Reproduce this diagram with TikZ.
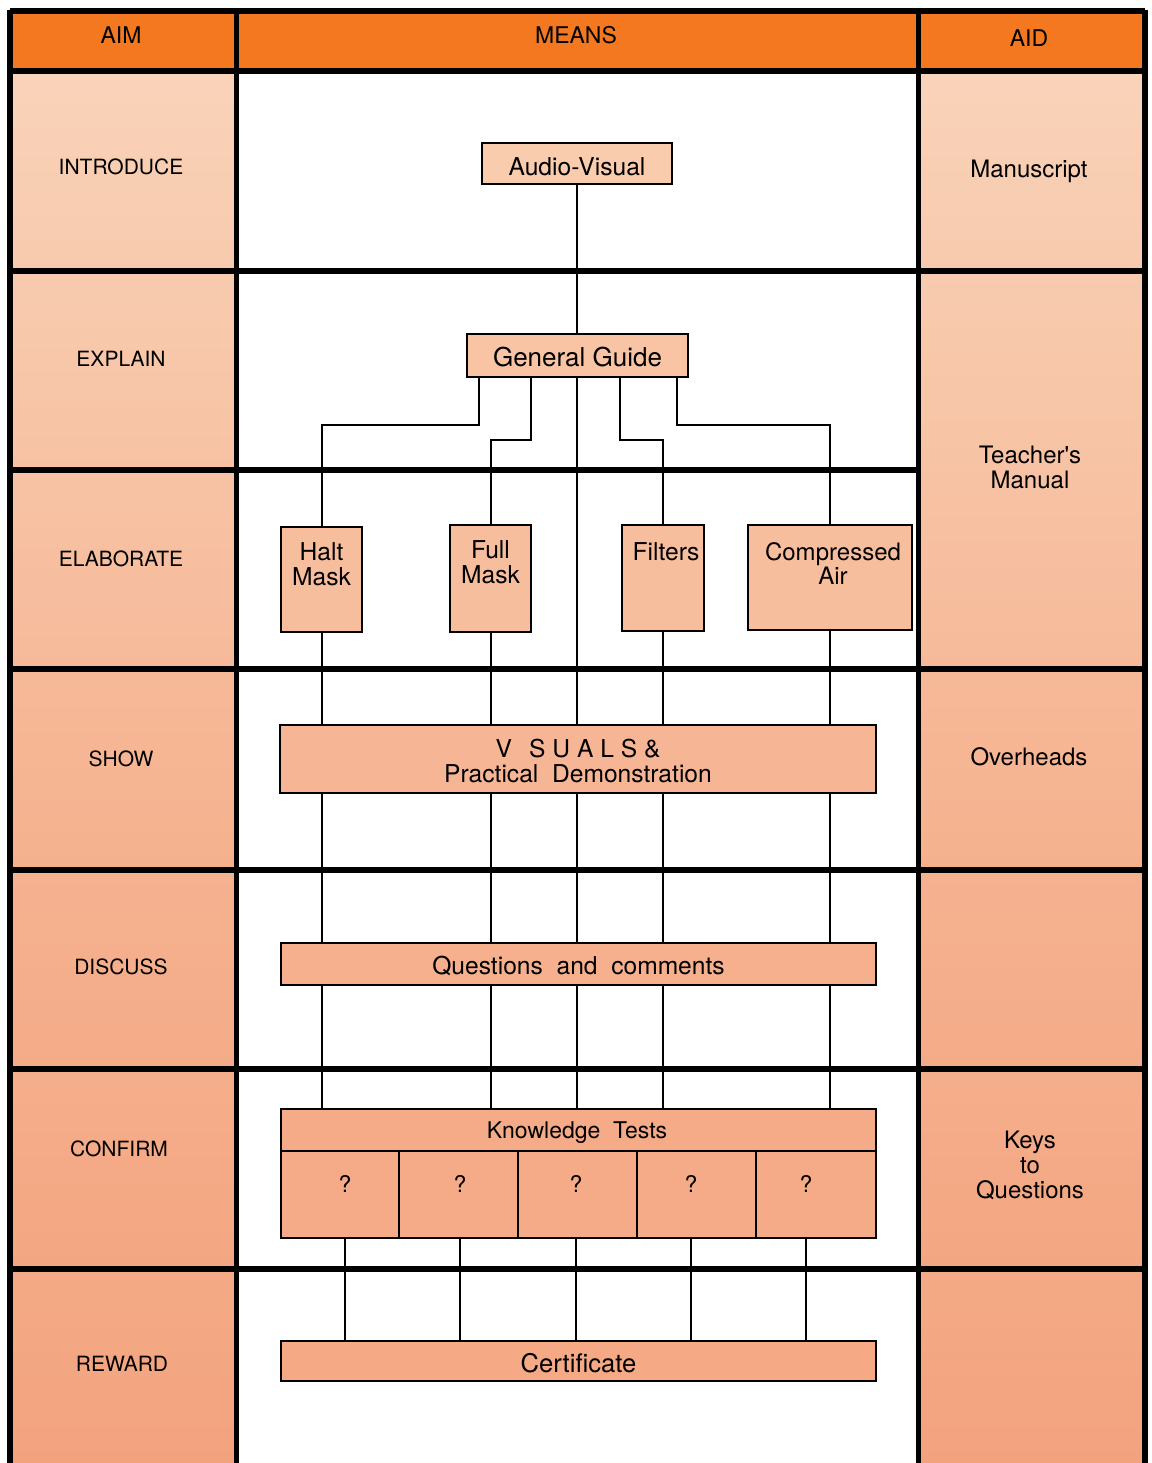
\documentclass[tikz,border=0pt]{standalone}
\usepackage{fontspec}
\setmainfont{TeX Gyre Heros}
\usetikzlibrary{fit}
\definecolor{hdr}{HTML}{F47820}
\definecolor{avc}{HTML}{F9CCAD}
\definecolor{ggc}{HTML}{F8C4A4}
\definecolor{elc}{HTML}{F7BE9E}
\definecolor{shc}{HTML}{F6B696}
\definecolor{qcc}{HTML}{F6B08E}
\definecolor{ktc}{HTML}{F5AA88}
\definecolor{cec}{HTML}{F5A985}
\definecolor{ra}{RGB}{249,211,186}
\definecolor{rb}{RGB}{248,202,173}
\definecolor{rc}{RGB}{248,203,174}
\definecolor{rd}{RGB}{247,194,163}
\definecolor{re}{RGB}{247,195,165}
\definecolor{rf}{RGB}{246,186,154}
\definecolor{rg}{RGB}{246,185,152}
\definecolor{rh}{RGB}{245,177,142}
\definecolor{ri}{RGB}{245,178,144}
\definecolor{rj}{RGB}{244,171,136}
\definecolor{rk}{RGB}{245,174,139}
\definecolor{rl}{RGB}{244,166,130}
\definecolor{rm}{RGB}{244,170,134}
\definecolor{rn}{RGB}{243,162,126}
\begin{document}
\begin{tikzpicture}[x=0.5pt,y=-0.5pt,
  gridline/.style={line width=3pt,black},
  colline/.style={line width=2.5pt,black},
  conn/.style={line width=1pt,black},
  box/.style={draw=black,line width=1.1pt,inner sep=0pt},
  hdrtxt/.style={font=\fontsize{11.5}{13}\selectfont},
  aimtxt/.style={font=\fontsize{10.5}{12}\selectfont},
  aidtxt/.style={font=\fontsize{12}{12.5}\selectfont,align=center},
  boxtxt/.style={font=\fontsize{12.3}{12.5}\selectfont,align=center,inner sep=0pt}]
\useasboundingbox (0,0) rectangle (1152,1463);
\fill[white] (0,0) rectangle (1152,1463);
% header band
\fill[hdr] (10,11) rectangle (1145,71);
% left column cells
\fill[top color=ra, bottom color=rb] (10,71) rectangle (236,271);
\fill[top color=rc, bottom color=rd] (10,271) rectangle (236,470);
\fill[top color=re, bottom color=rf] (10,470) rectangle (236,669);
\fill[top color=rg, bottom color=rh] (10,669) rectangle (236,870);
\fill[top color=ri, bottom color=rj] (10,870) rectangle (236,1069);
\fill[top color=rk, bottom color=rl] (10,1069) rectangle (236,1269);
\fill[top color=rm, bottom color=rn] (10,1269) rectangle (236,1463);
% right column cells
\fill[top color=ra, bottom color=rb] (918,71) rectangle (1145,271);
\fill[top color=rc, bottom color=rf] (918,271) rectangle (1145,669);
\fill[top color=rg, bottom color=rh] (918,669) rectangle (1145,870);
\fill[top color=ri, bottom color=rj] (918,870) rectangle (1145,1069);
\fill[top color=rk, bottom color=rl] (918,1069) rectangle (1145,1269);
\fill[top color=rm, bottom color=rn] (918,1269) rectangle (1145,1463);
% grid lines
\draw[gridline] (10,11) -- (1145,11);
\draw[gridline] (10,9.5) -- (10,1463);
\draw[gridline] (1145,9.5) -- (1145,1463);
\draw[colline] (236,11) -- (236,1463);
\draw[colline] (918,11) -- (918,1463);
\draw[gridline] (10,71) -- (1145,71);
\draw[gridline] (10,271) -- (1145,271);
\draw[gridline] (10,470) -- (918,470);
\draw[gridline] (10,669) -- (1145,669);
\draw[gridline] (10,870) -- (1145,870);
\draw[gridline] (10,1069) -- (1145,1069);
\draw[gridline] (10,1269) -- (1145,1269);
% header texts
\node[hdrtxt] (hAim) at (121,35) {AIM};
\node[hdrtxt] (hMeans) at (576,35) {MEANS};
\node[hdrtxt] (hAid) at (1029,38) {AID};
% aim labels
\node[aimtxt] (lIntro) at (121,167) {INTRODUCE};
\node[aimtxt] (lExpl) at (121,359) {EXPLAIN};
\node[aimtxt] (lElab) at (121,559) {ELABORATE};
\node[aimtxt] (lShow) at (121,759) {SHOW};
\node[aimtxt] (lDisc) at (121,967) {DISCUSS};
\node[aimtxt] (lConf) at (119,1149) {CONFIRM};
\node[aimtxt] (lRew) at (122,1364) {REWARD};
% aid labels
\node[aidtxt] (rMan) at (1029,171) {Manuscript};
\node[aidtxt] (rTeach) at (1030,467) {Teacher\textquotesingle s\\Manual};
\node[aidtxt] (rOver) at (1029,757) {Overheads};
\node[aidtxt] (rKeys) at (1030,1165) {Keys\\to\\Questions};
% means boxes
\node[box,fill=avc,fit={(482,143) (672,184)}] (av) {};
\node[boxtxt] (avt) at ([yshift=-1.5pt]av.center) {Audio-Visual};
\node[box,fill=ggc,fit={(467,334) (688,377)}] (gg) {};
\node[boxtxt,font=\fontsize{13}{13}\selectfont] (ggt) at ([yshift=-1pt]gg.center) {General Guide};
\node[box,fill=elc,fit={(281,527) (362,632)}] (hm) {};
\node[boxtxt,anchor=north] (hmt) at ([yshift=-8pt]hm.north) {Halt\\Mask};
\node[box,fill=elc,fit={(450,525) (531,632)}] (fm) {};
\node[boxtxt,anchor=north] (fmt) at ([yshift=-8pt]fm.north) {Full\\Mask};
\node[box,fill=elc,fit={(622,525) (704,631)}] (fi) {};
\node[boxtxt,anchor=north] (fit) at ([yshift=-9pt,xshift=1.5pt]fi.north) {Filters};
\node[box,fill=elc,fit={(748,525) (912,630)}] (ca) {};
\node[boxtxt,anchor=north,font=\fontsize{12}{10.5}\selectfont] (cat) at ([yshift=-9pt,xshift=1.5pt]ca.north) {Compressed\\Air};
\node[box,fill=shc,fit={(280,725) (876,793)}] (show) {};
\node[boxtxt,font=\fontsize{12.3}{12.5}\selectfont] (showt) at ([yshift=-1pt]show.center) {V\hspace{0.7em}S U A L S \&\\Practical\ \ Demonstration};
\node[box,fill=qcc,fit={(281,943) (876,985)}] (qc) {};
\node[boxtxt] (qct) at ([yshift=-1pt]qc.center) {Questions\ \ and\ \ comments};
\node[box,fill=ktc,fit={(281,1109) (876,1238)}] (kt) {};
\node[boxtxt,font=\fontsize{11.5}{12}\selectfont] (ktt) at (577,1133) {Knowledge\ \ Tests};
\coordinate (ktdiv) at (0,1151);
\draw[box] (kt.west |- ktdiv) -- (kt.east |- ktdiv);
\foreach \x in {399,518,637,756} \draw[box] (\x,1151) -- (\x,1238);
\node[boxtxt,font=\fontsize{11.5}{12}\selectfont] (q1) at (345,1184) {?};
\node[boxtxt,font=\fontsize{11.5}{12}\selectfont] (q2) at (460,1184) {?};
\node[boxtxt,font=\fontsize{11.5}{12}\selectfont] (q3) at (576,1184) {?};
\node[boxtxt,font=\fontsize{11.5}{12}\selectfont] (q4) at (691,1184) {?};
\node[boxtxt,font=\fontsize{11.5}{12}\selectfont] (q5) at (806,1184) {?};
\node[box,fill=cec,fit={(281,1341) (876,1381)}] (cert) {};
\node[boxtxt,font=\fontsize{12.8}{13}\selectfont] (certt) at ([yshift=-1pt]cert.center) {Certificate};
% connectors
\coordinate (ccen) at (576.5,0);
\coordinate (c479) at (479,0);
\coordinate (c531) at (531,0);
\coordinate (c620) at (620,0);
\coordinate (c677) at (677,0);
\draw[conn] (av.south -| ccen) -- (gg.north -| ccen);
\draw[conn] (gg.south -| ccen) -- (show.north -| ccen);
\draw[conn] (gg.south -| c479) -- ++(0,47) -| (hm.north);
\draw[conn] (gg.south -| c531) -- ++(0,62) -| (fm.north);
\draw[conn] (gg.south -| c620) -- ++(0,62) -| (fi.north);
\draw[conn] (gg.south -| c677) -- ++(0,47) -| (ca.north);
\foreach \n in {hm,fm,fi,ca} \draw[conn] (\n.south) -- (\n.south |- show.north);
\foreach \n in {hm,fm,ccen,fi,ca} {
  \draw[conn] (\n |- show.south) -- (\n |- qc.north);
  \draw[conn] (\n |- qc.south) -- (\n |- kt.north);
}
\foreach \n in {q1,q2,q3,q4,q5} \draw[conn] (kt.south -| \n) -- (cert.north -| \n);
\end{tikzpicture}
\end{document}
